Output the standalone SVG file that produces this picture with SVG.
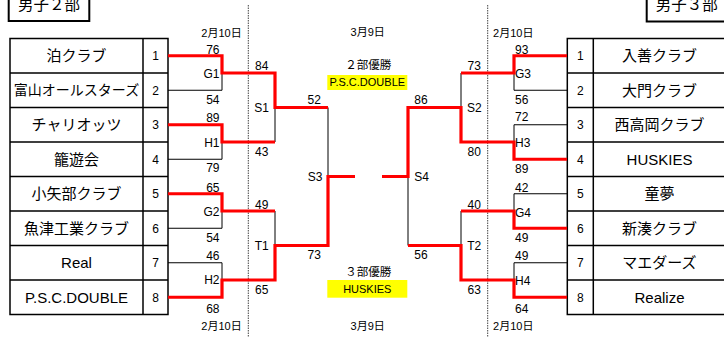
<svg xmlns="http://www.w3.org/2000/svg" width="724" height="337" viewBox="0 0 724 337">
<style>
text{font-family:"Liberation Sans","Noto Sans CJK JP",Arial,sans-serif;fill:#000}
.nm{font-size:15px;text-anchor:middle}
.no{font-size:12px;text-anchor:middle}
.sc{font-size:12px}
.e{text-anchor:end}
.m{text-anchor:middle}
.dt{font-size:11px;text-anchor:middle}
.ttl{font-size:15.5px;text-anchor:middle}
.tb{fill:none;stroke:#000;stroke-width:1.5}
.bl{fill:none;stroke:#000;stroke-width:1}
.rd{fill:none;stroke:#ff0000;stroke-width:3.2;stroke-linejoin:miter;stroke-linecap:butt}
.dot{stroke:#444;stroke-width:1;stroke-dasharray:1.5 1}
.yl{fill:#ffff00}
</style>
<rect width="724" height="337" fill="#fff"/>

<g id="title-left">
<rect x="8.7" y="-15" width="80.6" height="36" fill="none" stroke="#000" stroke-width="2"/>
<text class="ttl" x="49" y="10">男子２部</text>
</g>
<g id="title-right">
<rect x="646.7" y="-15" width="100" height="36.5" fill="none" stroke="#000" stroke-width="2"/>
<text class="ttl" x="686.7" y="10">男子３部</text>
</g>

<g id="dividers">
<line class="dot" x1="248.3" y1="5" x2="248.3" y2="337"/>
<line class="dot" x1="487.7" y1="5" x2="487.7" y2="337"/>
</g>

<g id="dates">
<text class="dt" x="221.5" y="37">2月10日</text>
<text class="dt" x="221.5" y="330">2月10日</text>
<text class="dt" x="513.3" y="37">2月10日</text>
<text class="dt" x="513.3" y="330">2月10日</text>
<text class="dt" x="367.7" y="36.2">3月9日</text>
<text class="dt" x="367.7" y="330">3月9日</text>
</g>

<g id="table-left">
<rect class="tb" x="10" y="38.5" width="158" height="276"/>
<line class="tb" x1="143" y1="38.5" x2="143" y2="314.5"/>
<path class="tb" d="M10 73H168M10 107.5H168M10 142H168M10 176.5H168M10 211H168M10 245.5H168M10 280H168"/>
<text class="nm" x="76.5" y="61">泊クラブ</text>
<text class="nm" x="76.5" y="95.2" style="font-size:14px">富山オールスターズ</text>
<text class="nm" x="76.5" y="130">チャリオッツ</text>
<text class="nm" x="76.5" y="164.5">籠遊会</text>
<text class="nm" x="76.5" y="199">小矢部クラブ</text>
<text class="nm" x="76.5" y="233.5">魚津工業クラブ</text>
<text class="nm" x="76.5" y="268">Real</text>
<text class="nm" x="76.5" y="302.5">P.S.C.DOUBLE</text>
<text class="no" x="155.5" y="60">1</text>
<text class="no" x="155.5" y="94.5">2</text>
<text class="no" x="155.5" y="129">3</text>
<text class="no" x="155.5" y="163.5">4</text>
<text class="no" x="155.5" y="198">5</text>
<text class="no" x="155.5" y="232.5">6</text>
<text class="no" x="155.5" y="267">7</text>
<text class="no" x="155.5" y="301.5">8</text>
</g>

<g id="table-right">
<rect class="tb" x="567.3" y="38.5" width="165" height="276"/>
<line class="tb" x1="593.3" y1="38.5" x2="593.3" y2="314.5"/>
<path class="tb" d="M567.3 73H732M567.3 107.5H732M567.3 142H732M567.3 176.5H732M567.3 211H732M567.3 245.5H732M567.3 280H732"/>
<text class="nm" x="659.5" y="61">入善クラブ</text>
<text class="nm" x="659.5" y="95.5">大門クラブ</text>
<text class="nm" x="659.5" y="130">西高岡クラブ</text>
<text class="nm" x="659.5" y="164.5">HUSKIES</text>
<text class="nm" x="659.5" y="199">童夢</text>
<text class="nm" x="659.5" y="233.5">新湊クラブ</text>
<text class="nm" x="659.5" y="268">マエダーズ</text>
<text class="nm" x="659.5" y="302.5">Realize</text>
<text class="no" x="580.3" y="60">1</text>
<text class="no" x="580.3" y="94.5">2</text>
<text class="no" x="580.3" y="129">3</text>
<text class="no" x="580.3" y="163.5">4</text>
<text class="no" x="580.3" y="198">5</text>
<text class="no" x="580.3" y="232.5">6</text>
<text class="no" x="580.3" y="267">7</text>
<text class="no" x="580.3" y="301.5">8</text>
</g>

<g id="connectors">
<path class="bl" d="M168 90.25H222V73M168 159.25H222V142M168 228.25H222V211M168 262.75H222V280M275 107.5V142M275 211V245.5M328 107.5V176.5"/>
<path class="bl" d="M567 90.25H514V73M567 124.75H514V142M567 193.75H514V211M567 262.75H514V280M461 73V107.5M461 211V245.5M408 176.5V245.5"/>
<path class="rd" d="M168 55.75H222V73H275V107.5H328"/>
<path class="rd" d="M168 124.75H222V142H275"/>
<path class="rd" d="M168 193.75H222V211H275"/>
<path class="rd" d="M168 297.25H222V280H275V245.5H328V176.5H355"/>
<path class="rd" d="M567 55.75H514V73H461"/>
<path class="rd" d="M567 159.25H514V142H461V107.5H408V176.5H382"/>
<path class="rd" d="M567 228.25H514V211H461"/>
<path class="rd" d="M567 297.25H514V280H461V245.5H408"/>
</g>

<g id="scores-left" class="sc">
<text class="e" x="219.5" y="53.6">76</text>
<text class="e" x="219.5" y="78.3">G1</text>
<text class="e" x="219.5" y="104.3">54</text>
<text class="e" x="219.5" y="122.3">89</text>
<text class="e" x="219.5" y="147.3">H1</text>
<text class="e" x="219.5" y="172.3">79</text>
<text class="e" x="219.5" y="192">65</text>
<text class="e" x="219.5" y="216">G2</text>
<text class="e" x="219.5" y="242">54</text>
<text class="e" x="219.5" y="260">46</text>
<text class="e" x="219.5" y="284.3">H2</text>
<text class="e" x="219.5" y="313.3">68</text>
<text class="m" x="261.7" y="70">84</text>
<text class="m" x="261.7" y="111.6">S1</text>
<text class="m" x="261.7" y="156.3">43</text>
<text class="m" x="261.7" y="208.6">49</text>
<text class="m" x="261.7" y="250">T1</text>
<text class="m" x="261.7" y="294.3">65</text>
<text class="m" x="314.3" y="104.3">52</text>
<text class="m" x="315" y="181">S3</text>
<text class="m" x="314.3" y="259.3">73</text>
</g>

<g id="scores-right" class="sc">
<text x="515" y="53.6">93</text>
<text x="515" y="78.3">G3</text>
<text x="515" y="104.3">56</text>
<text x="515" y="121">72</text>
<text x="515" y="146.6">H3</text>
<text x="515" y="172.6">89</text>
<text x="515" y="192">42</text>
<text x="515" y="216.6">G4</text>
<text x="515" y="242">49</text>
<text x="515" y="260">49</text>
<text x="515" y="285.3">H4</text>
<text x="515" y="313.3">64</text>
<text class="m" x="474.3" y="70">73</text>
<text class="m" x="474.3" y="111.6">S2</text>
<text class="m" x="474.3" y="156.3">80</text>
<text class="m" x="474.3" y="208.6">40</text>
<text class="m" x="474.3" y="250">T2</text>
<text class="m" x="474.3" y="294.3">63</text>
<text class="m" x="421" y="104.3">86</text>
<text class="m" x="421.7" y="181">S4</text>
<text class="m" x="421" y="259.3">56</text>
</g>

<g id="champion-2">
<text class="m" x="368.3" y="68.5" style="font-size:11.5px">２部優勝</text>
<rect class="yl" x="327.3" y="75" width="80" height="15"/>
<text class="m" x="367.3" y="86.4" style="font-size:11px">P.S.C.DOUBLE</text>
</g>
<g id="champion-3">
<text class="m" x="368.3" y="275.8" style="font-size:11.5px">３部優勝</text>
<rect class="yl" x="327.3" y="280" width="80" height="17.7"/>
<text class="m" x="367.3" y="293" style="font-size:11px">HUSKIES</text>
</g>
</svg>
